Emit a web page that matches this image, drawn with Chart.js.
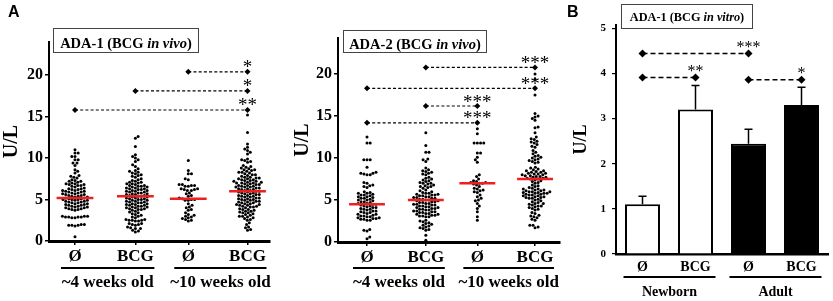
<!DOCTYPE html>
<html><head><meta charset="utf-8">
<script src="https://cdn.jsdelivr.net/npm/chart.js@4.4.1/dist/chart.umd.min.js"></script>
<style>
html,body{margin:0;padding:0;background:#fff;}
body{width:833px;height:301px;position:relative;overflow:hidden;font-family:'Liberation Serif',serif;}
canvas{position:absolute;top:0;}
.tbox{position:absolute;border:1px solid #444;box-sizing:border-box;font-weight:bold;color:#000;text-align:center;white-space:nowrap;font-family:'Liberation Serif',serif;}
.plabel{position:absolute;font-family:'Liberation Sans',Arial,sans-serif;font-weight:bold;font-size:16px;line-height:18px;color:#000;}
</style></head><body>
<canvas id="c1" width="280" height="301" style="left:0px"></canvas>
<canvas id="c2" width="280" height="301" style="left:290px"></canvas>
<canvas id="c3" width="273" height="301" style="left:560px"></canvas>
<div class="plabel" style="left:8px;top:3px">A</div>
<div class="plabel" style="left:567px;top:3px">B</div>
<div class="tbox" style="left:53px;top:28px;width:146px;height:25px;font-size:14.5px;line-height:16px;padding-top:6px">ADA-1 (BCG <i>in vivo</i>)</div>
<div class="tbox" style="left:343px;top:30px;width:144px;height:23px;font-size:14.5px;line-height:16px;padding-top:5px">ADA-2 (BCG <i>in vivo</i>)</div>
<div class="tbox" style="left:621px;top:4px;width:132px;height:25px;font-size:12.3px;line-height:14px;padding-top:5px">ADA-1 (BCG <i>in vitro</i>)</div>
<script>
// ---------------- DATA ----------------
const catLabels = ['Ø', 'BCG', 'Ø', 'BCG'];
const groupA = ['~4 weeks old', '~10 weeks old'];
const groupB = ['Newborn', 'Adult'];
const yTicksA = [0, 5, 10, 15, 20];
const yTicksB = [0, 1, 2, 3, 4, 5];

// ADA-1 (BCG in vivo), U/L
const ada1_o4 = [0.5,1.8,1.9,1.9,2.0,1.9,2.0,2.8,2.9,2.9,3.0,2.9,3.0,2.8,2.9,3.0,3.7,3.8,3.8,3.9,3.9,4.0,4.0,4.1,4.1,4.2,4.2,4.3,4.3,4.4,4.4,4.5,4.5,4.6,4.6,4.7,4.7,4.8,4.8,4.9,4.9,5.0,5.0,5.0,5.1,5.1,5.2,5.2,5.3,5.3,5.4,5.4,5.5,5.5,5.6,5.6,5.7,5.7,5.8,5.8,5.9,5.9,6.0,6.0,6.1,6.1,6.2,6.2,6.3,6.3,6.4,6.5,6.6,6.7,6.8,6.9,7.0,6.7,6.9,6.8,7.1,7.2,7.3,7.4,7.2,7.6,7.8,7.7,7.9,8.2,8.4,8.6,9.1,9.4,9.4,9.8,9.8,10.2,10.2,10.6,10.6,11.0];
const ada1_b4 = [1.1,1.2,1.3,1.5,1.6,1.7,1.5,2.0,2.1,2.0,1.9,2.1,2.4,2.5,2.6,2.5,2.4,2.6,2.5,2.8,2.9,3.0,3.1,3.2,3.3,3.4,3.5,3.6,3.7,3.8,3.8,3.9,3.9,4.0,4.0,4.1,4.1,4.2,4.2,4.3,4.3,4.4,4.4,4.5,4.5,4.6,4.6,4.7,4.7,4.8,4.8,4.9,4.9,5.0,5.0,5.1,5.1,5.2,5.2,5.3,5.3,5.4,5.4,5.5,5.5,5.6,5.6,5.7,5.7,5.8,5.8,5.9,5.9,6.0,6.0,6.1,6.1,6.2,6.2,6.3,6.3,6.4,6.4,6.5,6.5,6.6,6.6,6.7,6.8,6.9,7.0,7.1,7.2,7.3,7.4,7.5,6.7,6.9,7.1,7.7,7.8,7.9,8.0,8.1,8.2,8.3,8.4,8.5,8.7,9.0,9.2,9.6,9.8,10.0,10.2,10.4,11.4,12.4,12.6];
const ada1_o10 = [2.4,2.5,2.6,2.7,2.8,2.9,3.0,3.1,3.2,3.4,3.7,3.8,4.0,4.1,4.3,4.5,4.9,4.9,5.0,5.0,5.1,5.2,5.4,5.5,5.7,5.8,6.1,6.2,6.2,6.3,6.1,6.3,6.6,6.7,6.7,6.8,6.6,6.8,7.4,7.5,8.1,8.1,8.5,9.7];
const ada1_b10 = [1.3,1.4,1.6,1.7,2.0,2.2,2.5,2.6,2.7,2.8,2.9,3.0,3.0,3.1,3.2,3.3,3.4,3.4,3.5,3.6,3.6,3.7,3.8,3.8,3.9,4.0,4.1,4.1,4.2,4.2,4.3,4.3,4.4,4.4,4.5,4.5,4.6,4.6,4.7,4.7,4.8,4.8,4.9,4.9,5.0,5.0,5.1,5.1,5.2,5.2,5.3,5.3,5.4,5.4,5.5,5.5,5.6,5.6,5.7,5.7,5.8,5.8,5.9,5.9,6.0,6.0,6.1,6.1,6.2,6.2,6.3,6.3,6.4,6.4,6.5,6.5,6.6,6.6,6.7,6.7,6.8,6.8,6.9,6.9,7.0,7.0,7.1,7.1,7.2,7.2,7.3,7.3,7.4,7.4,7.5,7.5,7.6,7.6,7.7,7.7,6.5,7.0,7.8,7.9,8.0,8.1,8.2,8.3,8.4,8.5,8.6,8.7,8.8,8.9,9.0,9.1,8.0,8.3,8.6,9.5,9.6,9.7,9.8,9.9,10.5,10.7,10.9,11.1,11.3,11.7,13.1,15.2];
const ada1Median = [5.2, 5.4, 5.1, 6.0];
const ada1SigFrom = [2, 1, 0];
const ada1SigTo = [3, 3, 3];
const ada1SigY = [20.4, 18.1, 15.8];
const ada1SigStars = ['*', '*', '**'];

// ADA-2 (BCG in vivo), U/L
const ada2_o4 = [0.4,0.6,1.3,1.4,1.5,2.6,2.6,2.7,2.7,2.8,2.8,2.9,2.9,3.0,3.0,3.1,3.1,3.2,3.3,3.3,3.4,3.5,3.5,3.6,3.7,3.7,3.8,3.9,3.9,4.0,4.1,4.1,4.2,4.3,4.3,4.4,4.5,4.5,4.6,4.6,4.7,4.8,4.8,4.9,5.0,5.0,5.1,5.2,5.2,5.3,5.4,5.5,5.6,5.7,5.8,5.9,6.0,5.4,5.6,5.8,6.5,6.7,6.8,7.0,7.1,6.6,8.0,8.1,8.2,8.3,8.0,8.2,8.9,9.8,9.8,9.8,11.8,11.8,12.5];
const ada2_b4 = [0.2,0.8,1.4,1.5,1.6,1.7,1.8,1.9,2.0,2.1,2.2,2.3,2.4,2.5,2.6,3.0,3.0,3.1,3.1,3.2,3.2,3.3,3.3,3.4,3.4,3.5,3.5,3.6,3.6,3.7,3.7,3.8,3.8,3.9,3.9,4.0,4.0,4.1,4.1,4.2,4.2,4.3,4.3,4.4,4.4,4.5,4.5,4.6,4.6,4.7,4.7,4.8,4.8,4.9,4.9,5.0,5.0,5.1,5.1,5.2,5.2,5.3,5.3,5.4,5.4,5.5,5.5,5.6,5.6,5.7,5.7,5.8,5.8,5.9,6.0,6.1,6.2,6.4,6.5,6.6,6.7,6.8,6.9,7.0,7.1,7.2,7.3,7.4,7.5,7.6,7.7,6.6,7.0,8.0,8.1,8.2,8.3,8.4,8.5,8.6,8.8,9.6,9.8,9.9,10.7,10.7,11.5,13.0];
const ada2_o10 = [2.6,3.0,3.6,4.0,4.3,4.6,4.9,5.0,5.2,5.4,5.6,5.9,6.0,6.1,6.2,6.3,6.4,6.6,6.8,6.9,7.0,7.0,7.1,7.1,7.2,7.3,7.5,7.8,8.0,9.5,9.8,10.1,10.6,10.6,11.8,11.8,11.8,11.8,12.9,13.5];
const ada2_b10 = [1.7,1.8,2.0,2.0,2.6,2.7,2.9,3.0,3.1,3.2,3.4,3.5,3.8,3.9,4.0,4.1,4.2,4.3,4.4,4.5,4.6,4.7,4.8,4.9,5.0,4.3,4.6,5.1,5.2,5.3,5.4,5.5,5.6,5.7,5.8,5.9,6.0,6.1,6.2,6.3,6.4,6.5,6.6,6.7,6.8,5.2,5.4,5.6,5.8,6.0,6.2,5.3,5.5,5.7,5.9,6.1,6.3,5.8,6.0,7.0,7.1,7.2,7.3,7.4,7.5,7.6,7.7,7.8,7.9,8.0,8.1,8.2,8.3,8.4,8.5,8.6,8.7,8.8,8.9,7.5,7.7,7.9,8.1,8.3,8.5,7.6,7.8,8.0,8.2,9.4,9.5,9.6,9.7,9.8,9.9,10.0,10.1,10.2,10.3,10.5,10.7,10.9,11.3,11.4,11.6,11.8,11.9,12.0,12.2,12.3,12.5,13.0,13.6,13.7,14.5,14.7,14.9,15.0,15.3,17.5,19.4,20.0];
const ada2Median = [4.5, 5.0, 7.0, 7.5];
const ada2SigFrom = [1, 0, 1, 0];
const ada2SigTo = [3, 3, 2, 2];
const ada2SigY = [20.8, 18.3, 16.2, 14.2];
const ada2SigStars = ['***', '***', '***', '***'];

// ADA-1 (BCG in vitro), mean and SEM, U/L
const vitroMean = [1.1, 3.2, 2.44, 3.3];
const vitroSem = [0.18, 0.53, 0.32, 0.39];
const vitroSigFrom = [0, 0, 2];
const vitroSigTo = [2, 1, 3];
const vitroSigY = [4.44, 3.91, 3.86];
const vitroSigStars = ['***', '**', '*'];

// ---------------- RENDERING ----------------
const SERIF = "'Liberation Serif', serif";
const xPosA = [0, 1.05, 1.97, 3];
const xPosB = [0, 1, 2, 3];

const ann = {
  id: 'ann',
  afterDatasetsDraw(chart, args, o) {
    const {ctx, chartArea: ca, scales: {x, y}} = chart;
    ctx.save();
    ctx.fillStyle = '#000'; ctx.strokeStyle = '#000';
    if (o.err) {
      const meta = chart.getDatasetMeta(o.err.ds);
      ctx.lineWidth = 1.5;
      meta.data.forEach((el, i) => {
        const top = y.getPixelForValue(o.err.mean[i] + o.err.sem[i]);
        ctx.beginPath();
        ctx.moveTo(el.x, el.y); ctx.lineTo(el.x, top);
        ctx.moveTo(el.x - o.err.cap, top); ctx.lineTo(el.x + o.err.cap, top);
        ctx.stroke();
      });
    }
    ctx.font = `${o.starSize}px ${SERIF}`;
    ctx.textAlign = 'center'; ctx.textBaseline = 'alphabetic';
    o.sigTo.forEach((t, i) => {
      ctx.fillText(o.sigStars[i], x.getPixelForValue(o.pos[t]), y.getPixelForValue(o.sigY[i]) + o.starDy);
    });
    ctx.lineWidth = 2;
    ctx.font = `bold ${o.groupSize}px ${SERIF}`;
    ctx.textBaseline = 'middle';
    o.groups.forEach((g, i) => {
      const x0 = x.getPixelForValue(o.pos[2 * i]) - o.ulL;
      const x1 = x.getPixelForValue(o.pos[2 * i + 1]) + o.ulR;
      const uy = ca.bottom + o.ulDy;
      ctx.beginPath(); ctx.moveTo(x0, uy); ctx.lineTo(x1, uy); ctx.stroke();
      ctx.fillText(g, (x0 + x1) / 2, ca.bottom + o.glDy);
    });
    ctx.restore();
  }
};

function swarm(chart, vals, center, d) {
  const xs = chart.scales.x, ys = chart.scales.y;
  const cx = xs.getPixelForValue(center);
  const idx = vals.map((v, i) => i).sort((a, b) => vals[a] - vals[b] || a - b);
  const placed = [];
  const out = new Array(vals.length);
  let flip = 1;
  for (const i of idx) {
    const py = ys.getPixelForValue(vals[i]);
    const near = placed.filter(p => Math.abs(p.y - py) < d);
    const cands = [0];
    for (const p of near) {
      const dx = Math.sqrt(d * d - (p.y - py) * (p.y - py));
      cands.push(p.x + dx, p.x - dx);
    }
    cands.sort((a, b) => Math.abs(a) - Math.abs(b));
    const ok = c => near.every(p => (p.x - c) * (p.x - c) + (p.y - py) * (p.y - py) >= d * d - 1e-3);
    let best = 0;
    for (const c of cands) { if (ok(c)) { best = c; break; } }
    if (best !== 0 && ok(-best)) { best = Math.abs(best) * flip; flip = -flip; }
    placed.push({x: best, y: py});
    out[i] = {x: xs.getValueForPixel(cx + best), y: vals[i]};
  }
  return out;
}

function swarmChart(id, groups, medians, sigFrom, sigTo, sigY, sigStars, L) {
  const datasets = [];
  medians.forEach((m, i) => datasets.push({
    data: [{x: xPosA[i] - 0.32, y: m}, {x: xPosA[i] + 0.32, y: m}],
    showLine: true, borderColor: '#f01e1e', borderWidth: 2.5, pointRadius: 0, order: 0
  }));
  sigY.forEach((v, i) => datasets.push({
    data: [{x: xPosA[sigFrom[i]], y: v}, {x: xPosA[sigTo[i]], y: v}],
    showLine: true, borderColor: '#000', borderWidth: 1.2, borderDash: [3, 2.2],
    pointStyle: 'rectRot', pointRadius: 3, pointBackgroundColor: '#000', pointBorderWidth: 0, order: 1
  }));
  const first = datasets.length;
  groups.forEach((vals, i) => datasets.push({
    data: vals.map(v => ({x: xPosA[i], y: v})),
    pointRadius: 1.5, pointBackgroundColor: '#000', pointBorderWidth: 0, order: 2
  }));
  const chart = new Chart(document.getElementById(id), {
    type: 'scatter',
    data: {datasets},
    options: {
      responsive: false, animation: false, devicePixelRatio: 1, events: [],
      layout: {padding: {left: 0, right: L.padR, top: L.padT, bottom: 0}},
      plugins: {
        legend: {display: false}, tooltip: {enabled: false},
        ann: {pos: xPosA, sigTo, sigY, sigStars, starSize: 19, starDy: 1.5, groups: groupA,
              groupSize: 17, ulL: 14, ulR: 19, ulDy: L.ulDy, glDy: L.glDy}
      },
      scales: {
        x: {
          type: 'linear', min: L.xMin, max: L.xMax,
          afterFit: s => { s.height = L.xH; },
          afterBuildTicks: s => { s.ticks = xPosA.map(v => ({value: v})); },
          ticks: {callback: (v, i) => catLabels[i], font: {family: SERIF, size: 17, weight: 'bold'},
                  color: '#000', padding: 1, autoSkip: false, maxRotation: 0},
          grid: {display: true, drawOnChartArea: false, drawTicks: true, tickLength: 4, color: '#000', lineWidth: 1.5},
          border: {display: true, color: '#000', width: 3}
        },
        y: {
          min: 0, max: L.yMax,
          afterFit: s => { s.width = L.yW; },
          afterBuildTicks: s => { s.ticks = yTicksA.map(v => ({value: v})); },
          ticks: {callback: v => String(v), font: {family: SERIF, size: 16, weight: 'bold'}, color: '#000', padding: 2},
          grid: {display: true, drawOnChartArea: false, drawTicks: true, tickLength: 4, color: '#000', lineWidth: 1.5},
          border: {display: true, color: '#000', width: 2},
          title: {display: true, text: 'U/L', font: {family: SERIF, size: 20, weight: 'bold'}, color: '#000',
                  padding: {top: L.titlePad, bottom: 0}}
        }
      }
    },
    plugins: [ann]
  });
  groups.forEach((vals, i) => { chart.data.datasets[first + i].data = swarm(chart, vals, xPosA[i], 3.2); });
  chart.update('none');
  return chart;
}

swarmChart('c1', [ada1_o4, ada1_b4, ada1_o10, ada1_b10], ada1Median, ada1SigFrom, ada1SigTo, ada1SigY, ada1SigStars,
  {padR: 10, padT: 42, xH: 60, yW: 49, yMax: 24, xMin: -0.452, xMax: 3.391, titlePad: 0, ulDy: 27, glDy: 42});
swarmChart('c2', [ada2_o4, ada2_b4, ada2_o10, ada2_b10], ada2Median, ada2SigFrom, ada2SigTo, ada2SigY, ada2SigStars,
  {padR: 10, padT: 38, xH: 59, yW: 48, yMax: 24.3, xMin: -0.518, xMax: 3.446, titlePad: 1, ulDy: 26, glDy: 41});

// Panel B bar chart
const barDatasets = [{
  type: 'bar',
  data: vitroMean.map((v, i) => ({x: xPosB[i], y: v})),
  backgroundColor: ['#fff', '#fff', '#000', '#000'], borderColor: '#000', borderWidth: 2,
  borderSkipped: 'bottom', barPercentage: 0.66, categoryPercentage: 1, order: 2
}];
vitroSigY.forEach((v, i) => barDatasets.push({
  type: 'line',
  data: [{x: xPosB[vitroSigFrom[i]], y: v}, {x: xPosB[vitroSigTo[i]], y: v}],
  borderColor: '#000', borderWidth: 1.5, borderDash: [5, 3], fill: false,
  pointStyle: 'rectRot', pointRadius: 4, pointBackgroundColor: '#000', pointBorderWidth: 0, order: 0
}));
new Chart(document.getElementById('c3'), {
  type: 'bar',
  data: {datasets: barDatasets},
  options: {
    responsive: false, animation: false, devicePixelRatio: 1, events: [],
    layout: {padding: {left: 0, right: 5, top: 25, bottom: 0}},
    plugins: {
      legend: {display: false}, tooltip: {enabled: false},
      ann: {pos: xPosB, sigTo: vitroSigTo, sigY: vitroSigY, sigStars: vitroSigStars, starSize: 16, starDy: -1.5,
            groups: groupB, groupSize: 14, ulL: 19, ulR: 20, ulDy: 23, glDy: 38,
            err: {ds: 0, mean: vitroMean, sem: vitroSem, cap: 4}}
    },
    scales: {
      x: {
        type: 'linear', min: -0.5, max: 3.5, offset: false,
        afterFit: s => { s.height = 47; },
        afterBuildTicks: s => { s.ticks = xPosB.map(v => ({value: v})); },
        ticks: {callback: (v, i) => catLabels[i], font: {family: SERIF, size: 14, weight: 'bold'},
                color: '#000', padding: 5, autoSkip: false, maxRotation: 0},
        grid: {display: false, offset: false, drawTicks: false, tickLength: 0},
        border: {display: true, color: '#000', width: 2.5}
      },
      y: {
        min: 0, max: 5.07,
        afterFit: s => { s.width = 56; },
        afterBuildTicks: s => { s.ticks = yTicksB.map(v => ({value: v})); },
        ticks: {callback: v => String(v), font: {family: SERIF, size: 11, weight: 'bold'}, color: '#000', padding: 6},
        grid: {display: true, drawOnChartArea: false, drawTicks: true, tickLength: 4, color: '#000', lineWidth: 1.2},
        border: {display: true, color: '#000', width: 2},
        title: {display: true, text: 'U/L', font: {family: SERIF, size: 18, weight: 'bold'}, color: '#000',
                padding: {top: 11, bottom: 0}}
      }
    }
  },
  plugins: [ann]
});
</script>
</body></html>
